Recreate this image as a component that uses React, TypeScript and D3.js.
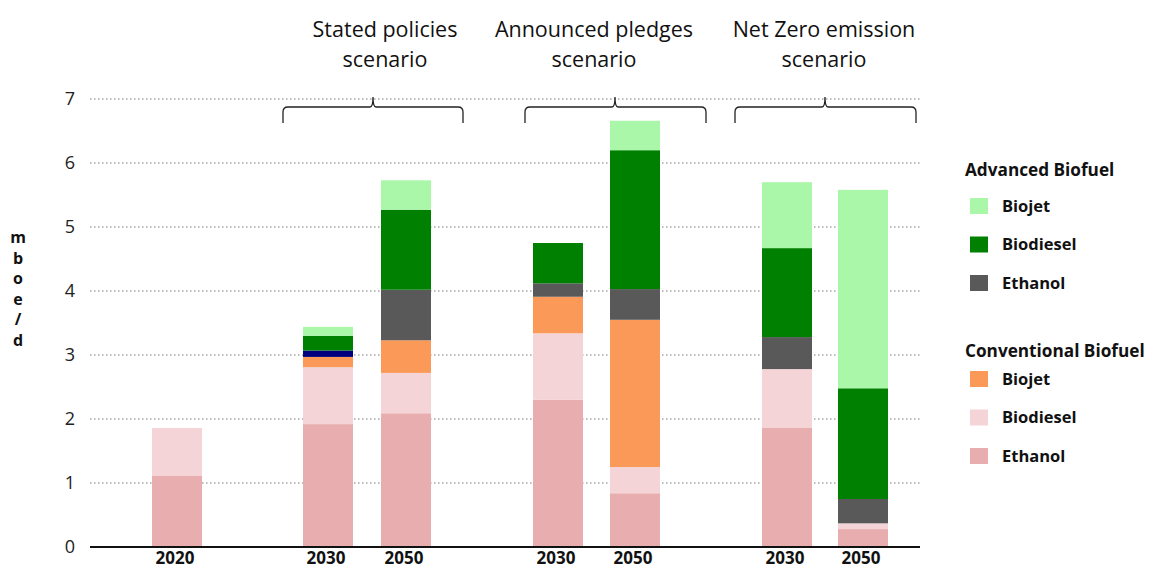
import React from "react";
import * as d3 from "d3";

// Bar slots (year label + scenario group)
const barYears = ["2020", "2030", "2050", "2030", "2050", "2030", "2050"];
const barGroups = ["base", "sp", "sp", "ap", "ap", "nz", "nz"];

// Stacked series, bottom to top (mboe/d)
const convEthanol = [1.11, 1.92, 2.09, 2.3, 0.84, 1.86, 0.28];
const convBiodiesel = [0.75, 0.89, 0.63, 1.04, 0.41, 0.92, 0.09];
const convBiojet = [0, 0.16, 0.51, 0.57, 2.3, 0, 0];
const otherFuel = [0, 0.1, 0, 0, 0, 0, 0];
const advEthanol = [0, 0, 0.79, 0.21, 0.48, 0.5, 0.38];
const advBiodiesel = [0, 0.23, 1.25, 0.63, 2.17, 1.39, 1.73];
const advBiojet = [0, 0.14, 0.46, 0, 0.46, 1.03, 3.1];

const seriesNames = ["convEthanol", "convBiodiesel", "convBiojet", "other", "advEthanol", "advBiodiesel", "advBiojet"];
const seriesColors = ["#e8adaf", "#f4d4d6", "#fb9a58", "#00007f", "#595959", "#008000", "#aaf7aa"];

const yTicks = [0, 1, 2, 3, 4, 5, 6, 7];

const scenarioTitles = [
  { key: "sp", lines: ["Stated policies", "scenario"] },
  { key: "ap", lines: ["Announced pledges", "scenario"] },
  { key: "nz", lines: ["Net Zero emission", "scenario"] },
];

const legendGroups = [
  { title: "Advanced Biofuel", items: [["Biojet", "#aaf7aa"], ["Biodiesel", "#008000"], ["Ethanol", "#595959"]] },
  { title: "Conventional Biofuel", items: [["Biojet", "#fb9a58"], ["Biodiesel", "#f4d4d6"], ["Ethanol", "#e8adaf"]] },
];

const FONT = "'Open Sans', sans-serif";

export default function App() {
  const W = 1151, H = 570;
  const plotLeft = 90, plotRight = 920;
  const y = d3.scaleLinear().domain([0, 7]).range([547, 99]);
  const barCenters = [177, 328, 406, 558, 635, 787, 863];
  const barW = 50;

  const rows = barYears.map((_, i) => ({
    i,
    convEthanol: convEthanol[i],
    convBiodiesel: convBiodiesel[i],
    convBiojet: convBiojet[i],
    other: otherFuel[i],
    advEthanol: advEthanol[i],
    advBiodiesel: advBiodiesel[i],
    advBiojet: advBiojet[i],
  }));
  const stacked = d3.stack<any>().keys(seriesNames)(rows);

  const braces = [
    { key: "sp", x0: 283, x1: 463, cx: 373, titleX: 385 },
    { key: "ap", x0: 525, x1: 706, cx: 615, titleX: 594 },
    { key: "nz", x0: 735, x1: 916, cx: 825, titleX: 824 },
  ];

  const bracePath = (x0: number, x1: number, cx: number) => {
    const top = 97, mid = 107, bot = 123, r = 5;
    return `M${x0},${bot} L${x0},${mid + r} Q${x0},${mid} ${x0 + r},${mid} L${cx - 3},${mid} Q${cx},${mid} ${cx},${top} Q${cx},${mid} ${cx + 3},${mid} L${x1 - r},${mid} Q${x1},${mid} ${x1},${mid + r} L${x1},${bot}`;
  };

  const yLabel = ["m", "b", "o", "e", "/", "d"];

  return (
    <svg width={W} height={H} style={{ position: "absolute", left: 0, top: 0, background: "#fff" }} fontFamily={FONT}>
      {/* gridlines */}
      {yTicks.filter((t) => t > 0).map((t) => (
        <line key={t} x1={plotLeft} x2={plotRight} y1={y(t)} y2={y(t)} stroke="#a6a6a6" strokeWidth={1.3} strokeDasharray="1.5,2.5" />
      ))}
      {/* y tick labels */}
      {yTicks.map((t) => (
        <text key={t} x={70} y={y(t)} dy="0.36em" textAnchor="middle" fontSize={18} fill="#222">{t}</text>
      ))}
      {/* y axis title */}
      {yLabel.map((c, k) => (
        <text key={k} x={18} y={243 + k * 20.5} textAnchor="middle" fontSize={16} fontWeight="bold" fill="#111">{c}</text>
      ))}
      {/* stacked bars */}
      {stacked.map((s, si) => (
        <g key={s.key} fill={seriesColors[si]}>
          {s.map((d, i) => d[1] - d[0] > 0 ? (
            <rect key={i} x={barCenters[i] - barW / 2} width={barW} y={y(d[1])} height={y(d[0]) - y(d[1])} />
          ) : null)}
        </g>
      ))}
      {/* baseline */}
      <line x1={plotLeft} x2={plotRight} y1={y(0)} y2={y(0)} stroke="#111" strokeWidth={2} />
      {/* x labels */}
      {barYears.map((yr, i) => (
        <text key={i} x={barCenters[i] - 2} y={564} textAnchor="middle" fontSize={17} fontWeight="bold" fill="#111">{yr}</text>
      ))}
      {/* scenario braces and titles */}
      {braces.map((b, k) => (
        <g key={b.key}>
          <path d={bracePath(b.x0, b.x1, b.cx)} fill="none" stroke="#222" strokeWidth={1.3} />
          {scenarioTitles[k].lines.map((ln, j) => (
            <text key={j} x={b.titleX} y={37 + j * 30} textAnchor="middle" fontSize={21.5} fill="#111">{ln}</text>
          ))}
        </g>
      ))}
      {/* legend */}
      {legendGroups.map((g, gi) => {
        const top = gi === 0 ? 170 : 351;
        const gap = 38.5;
        return (
          <g key={g.title}>
            <text x={965} y={top + 6} fontSize={17.2} fontWeight="bold" fill="#111">{g.title}</text>
            {g.items.map(([name, col], k) => {
              const cy = top + (gi === 0 ? 36 : 28) + k * gap;
              return (
                <g key={name}>
                  <rect x={970} y={cy - 8} width={18} height={16} fill={col} />
                  <text x={1002} y={cy} dy="0.35em" fontSize={16.5} fontWeight="bold" fill="#111">{name}</text>
                </g>
              );
            })}
          </g>
        );
      })}
    </svg>
  );
}
